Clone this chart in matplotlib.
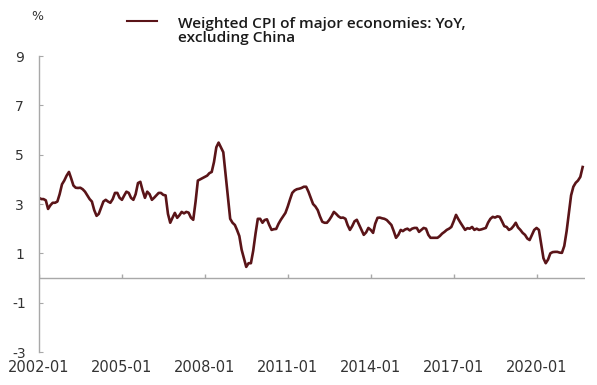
import matplotlib
matplotlib.use("Agg")
import matplotlib.pyplot as plt
from matplotlib.lines import Line2D
import pandas as pd

plt.rcParams['axes.unicode_minus'] = False

start_month = "2002-01"
values = [
    # 2002
    3.25, 3.2, 3.2, 3.15, 2.8, 2.95, 3.05, 3.05, 3.1, 3.4, 3.8, 3.95,
    # 2003
    4.15, 4.3, 4.05, 3.75, 3.66, 3.65, 3.66, 3.6, 3.5, 3.35, 3.2, 3.1,
    # 2004
    2.75, 2.52, 2.6, 2.85, 3.1, 3.17, 3.1, 3.05, 3.2, 3.45, 3.45, 3.25,
    # 2005
    3.17, 3.35, 3.5, 3.45, 3.25, 3.17, 3.4, 3.85, 3.9, 3.55, 3.25, 3.5,
    # 2006
    3.4, 3.17, 3.25, 3.35, 3.45, 3.45, 3.37, 3.35, 2.6, 2.24, 2.45, 2.64,
    # 2007
    2.44, 2.55, 2.68, 2.62, 2.68, 2.65, 2.45, 2.36, 3.1, 3.95, 4.0, 4.05,
    # 2008
    4.1, 4.15, 4.25, 4.3, 4.7, 5.3, 5.49, 5.3, 5.1, 4.2, 3.3, 2.4,
    # 2009
    2.24, 2.15, 1.95, 1.7, 1.15, 0.8, 0.45, 0.6, 0.6, 1.1, 1.8, 2.4,
    # 2010
    2.4, 2.24, 2.35, 2.38, 2.15, 1.95, 1.98, 1.99, 2.2, 2.36, 2.5, 2.64,
    # 2011
    2.9, 3.2, 3.45, 3.55, 3.6, 3.62, 3.65, 3.7, 3.7, 3.5, 3.25, 3.0,
    # 2012
    2.9, 2.75, 2.5, 2.28, 2.24, 2.24, 2.35, 2.5, 2.68, 2.6, 2.5, 2.44,
    # 2013
    2.45, 2.4, 2.15, 1.95, 2.1, 2.3, 2.36, 2.15, 1.95, 1.75, 1.85, 2.03,
    # 2014
    1.95, 1.83, 2.2, 2.44, 2.45, 2.42, 2.4, 2.35, 2.25, 2.15, 1.9, 1.63,
    # 2015
    1.75, 1.95, 1.9, 1.97, 2.0, 1.93, 2.0, 2.03, 2.03, 1.87, 1.95, 2.03,
    # 2016
    2.0, 1.75, 1.63, 1.63, 1.63, 1.63, 1.7, 1.8, 1.87, 1.95, 2.0, 2.07,
    # 2017
    2.3, 2.56, 2.4, 2.24, 2.1, 1.95, 2.02, 2.0, 2.07, 1.95, 2.0, 1.95,
    # 2018
    1.97, 2.0, 2.03, 2.25, 2.4, 2.48, 2.45, 2.5, 2.48, 2.3, 2.1, 2.07,
    # 2019
    1.95, 2.0, 2.1, 2.24, 2.05, 1.95, 1.83, 1.75, 1.6, 1.54, 1.75, 1.95,
    # 2020
    2.03, 1.95, 1.4, 0.8, 0.6, 0.75, 1.0, 1.05, 1.06, 1.06, 1.03, 1.02,
    # 2021
    1.3, 1.9, 2.6, 3.35, 3.7, 3.86, 3.95, 4.1, 4.5,
]
tick_labels = ["2002-01", "2005-01", "2008-01", "2011-01", "2014-01", "2017-01", "2020-01"]
y_ticks = [-3, -1, 1, 3, 5, 7, 9]
series_label = "Weighted CPI of major economies: YoY,\nexcluding China"

dates = pd.date_range(start_month, periods=len(values), freq="MS")
tick_dates = pd.to_datetime(tick_labels)

line_color = "#5a1418"
axis_color = "#a8a8a8"
text_color = "#333333"

fig = plt.figure(figsize=(5.97, 3.85), dpi=100)
ax = fig.add_axes([0.0653, 0.0857, 0.915, 0.7688])

ax.plot(dates, values, color=line_color, lw=1.9, solid_joinstyle="round")

ax.set_xlim(pd.Timestamp("2002-01-01"), pd.Timestamp("2021-10-05"))
ax.set_ylim(-3, 9)

for s in ["top", "right", "bottom"]:
    ax.spines[s].set_visible(False)
ax.spines["left"].set_color(axis_color)
ax.spines["left"].set_linewidth(1.0)

ax.axhline(0, color=axis_color, lw=1.0)
ax.vlines(tick_dates, 0, 0.15, color=axis_color, lw=1.0)

ax.set_yticks(y_ticks)
ax.set_yticklabels([str(v) for v in y_ticks])
ax.tick_params(axis="y", direction="in", length=3, color=axis_color, pad=14,
               labelsize=10, labelcolor=text_color)
ax.set_xticks(tick_dates)
ax.set_xticklabels(tick_labels)
ax.tick_params(axis="x", length=0, pad=6, labelsize=10.5, labelcolor=text_color)
for lbl in ax.get_xticklabels() + ax.get_yticklabels():
    lbl.set_family("DejaVu Sans")
for lbl in ax.get_yticklabels():
    lbl.set_horizontalalignment("center")

fig.text(37 / 597, 1 - 16 / 385, "%", ha="center", va="center", fontsize=9,
         color=text_color)

# legend
fig.add_artist(Line2D([127 / 597, 157 / 597], [1 - 21 / 385, 1 - 21 / 385],
                      color=line_color, lw=1.5))
fig.text(178 / 597, 1 - 31 / 385, series_label, ha="left", va="center",
         fontsize=11.1, fontweight="semibold", family="Open Sans",
         color="#1a1a1a", linespacing=0.95)

fig.savefig("out.png", dpi=100, facecolor="white")
